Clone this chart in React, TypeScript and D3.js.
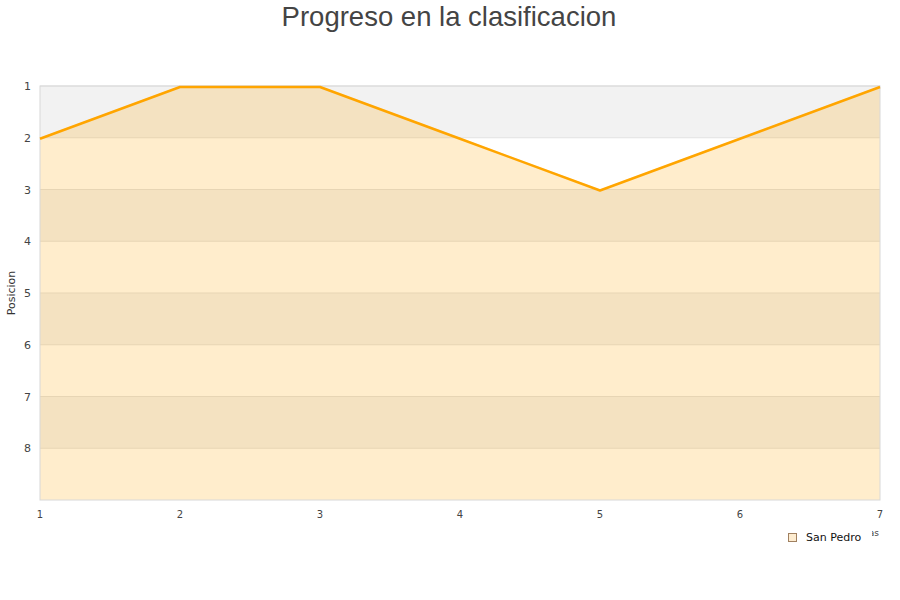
import * as d3 from 'd3'
import React from 'react'

// jornadas (x) and posicion (y) for San Pedro
const jornadas = [1, 2, 3, 4, 5, 6, 7]
const posiciones = [2, 1, 1, 2, 3, 2, 1]
const yTicks = [1, 2, 3, 4, 5, 6, 7, 8]
const seriesName = 'San Pedro'
const title = 'Progreso en la clasificacion'
const yTitle = 'Posicion'
const xTitle = 'Jornadas'

const App = () => {
  const W = 900
  const H = 600
  const left = 40
  const right = 880
  const top = 86
  const bottom = 500

  const x = d3.scaleLinear().domain([1, 7]).range([left, right])
  const y = d3.scaleLinear().domain([1, 9]).range([top, bottom])

  const pts = jornadas.map((j, i) => [j, posiciones[i]] as [number, number])

  const area = d3
    .area<[number, number]>()
    .x((d) => x(d[0]))
    .y0(y(9))
    .y1((d) => y(d[1]))
  const line = d3
    .line<[number, number]>()
    .x((d) => x(d[0]))
    .y((d) => y(d[1]))

  const bands = d3.range(1, 9)
  const font = 'DejaVu Sans, sans-serif'

  return (
    <svg width={W} height={H} style={{ position: 'absolute', left: 0, top: 0 }}>
      <defs>
        <clipPath id="xtclip">
          <rect x={872} y={515} width={20} height={30} />
        </clipPath>
      </defs>
      <rect width={W} height={H} fill="#fff" />
      <text
        x={449}
        y={26}
        textAnchor="middle"
        fontFamily="Liberation Sans, Arial, sans-serif"
        fontSize={27.5}
        fill="#444"
      >
        {title}
      </text>

      {/* alternating bands */}
      {bands.map((b) => (
        <rect
          key={b}
          x={left}
          y={y(b)}
          width={right - left}
          height={y(b + 1) - y(b)}
          fill={b % 2 === 1 ? '#f2f2f2' : '#ffffff'}
        />
      ))}
      {yTicks.map((t) => (
        <line key={t} x1={left} x2={right} y1={y(t)} y2={y(t)} stroke="#e2e2e2" strokeWidth={1} />
      ))}

      <path d={area(pts) || ''} fill="#FFA500" fillOpacity={0.2} />

      {/* plot border */}
      <rect x={left} y={top} width={right - left} height={bottom - top} fill="none" stroke="#d8d8d8" strokeWidth={1} />

      <path
        d={line(pts) || ''}
        fill="none"
        stroke="#FFA500"
        strokeWidth={2.5}
        strokeLinejoin="round"
        transform="translate(0,1)"
      />

      {/* y ticks */}
      {yTicks.map((t) => (
        <text key={t} x={31} y={y(t) + 4} textAnchor="end" fontFamily={font} fontSize={11} fill="#444">
          {t}
        </text>
      ))}
      {/* x ticks */}
      {jornadas.map((j) => (
        <text key={j} x={x(j)} y={518} textAnchor="middle" fontFamily={font} fontSize={10} fill="#444">
          {j}
        </text>
      ))}

      <text
        transform="translate(15,293) rotate(-90)"
        textAnchor="middle"
        fontFamily={font}
        fontSize={11}
        fill="#333"
      >
        {yTitle}
      </text>

      <g clipPath="url(#xtclip)">
        <text x={879} y={536} textAnchor="end" fontFamily={font} fontSize={9} fill="#444">
          {xTitle}
        </text>
      </g>

      {/* legend */}
      <rect x={788.5} y={533.5} width={8} height={8} fill="#fdecd0" stroke="#a08060" strokeWidth={1} />
      <text x={806} y={541} fontFamily={font} fontSize={11} fill="#111">
        {seriesName}
      </text>
    </svg>
  )
}

export default App
